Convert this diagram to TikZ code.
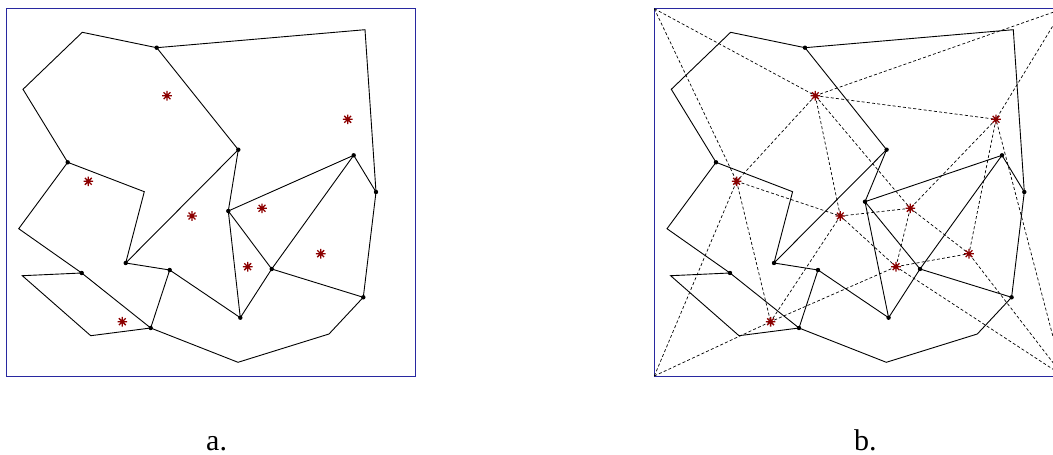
\documentclass[tikz,border=0pt]{standalone}
\usepackage{fontspec}
\setmainfont{Liberation Serif}
\definecolor{framecol}{RGB}{40,40,160}
\definecolor{starcol}{RGB}{140,0,0}
\tikzset{
  frameline/.style={draw=framecol,line width=0.9pt},
  polyline/.style={draw=black,line width=0.9pt},
  dualline/.style={draw=black,line width=0.7pt,dash pattern=on 3pt off 2.2pt},
  vdot/.style={fill=black},
  starmark/.pic={\draw[starcol,line width=1.3pt] (-4.8,0)--(4.8,0) (0,-4.8)--(0,4.8) (-3.4,-3.4)--(3.4,3.4) (-3.4,3.4)--(3.4,-3.4);},
  lab/.style={font=\fontsize{30}{36}\selectfont,anchor=base west,inner sep=0pt}
}
\begin{document}
\begin{tikzpicture}[x=1pt,y=-1pt]
\useasboundingbox (0,0) rectangle (1053,455);
\clip (0,0) rectangle (1053,455);
% polygon vertices
\foreach \n/\x/\y in {1/82.3/32.3,2/156.7/47.7,3/365/29.7,4/376/192,5/353.7/155.3,6/238.3/149.7,7/23/89.3,8/67.7/162.3,9/144.3/191.7,10/18.7/228.7,11/125.7/263,12/169.7/270,13/228.3/211,14/271.7/269,15/363.3/297.3,16/329/334,17/238/362.3,18/150.7/328,19/90.7/335.7,20/22.3/275.7,21/81.7/273,22/240.3/317.7}{
  \coordinate (a\n) at (\x,\y);
  \coordinate (b\n) at (\x+648.3,\y);
}
\coordinate (b13) at (865,201.7);
% region points
\foreach \n/\x/\y in {1/167/95.7,2/347.7/119.3,3/88.3/181.3,4/192/216,5/262/208.3,6/247.7/266.7,7/320.7/253.7,8/122.3/321.7}{
  \coordinate (sa\n) at (\x,\y);
  \coordinate (sb\n) at (\x+648.3,\y);
}
% frames
\coordinate (FAtl) at (6,8.7);
\coordinate (FAbr) at (415,376);
\coordinate (TL) at (654.3,8.7);
\coordinate (TR) at (1063.3,8.7);
\coordinate (BL) at (654.3,376);
\coordinate (BR) at (1063.3,376);
\draw[frameline] (FAtl) rectangle (FAbr);
\draw[frameline] (TL) rectangle (BR);
% polygons
\foreach \p in {a,b}{
  \draw[polyline] (\p1)--(\p2)--(\p3)--(\p4)--(\p15)--(\p16)--(\p17)--(\p18)--(\p19)--(\p20)--(\p21)--(\p10)--(\p8)--(\p7)--cycle;
  \draw[polyline] (\p2)--(\p6)--(\p11)--(\p9)--(\p8);
  \draw[polyline] (\p4)--(\p5)--(\p13)--(\p6);
  \draw[polyline] (\p5)--(\p14)--(\p13)--(\p22)--(\p14)--(\p15);
  \draw[polyline] (\p11)--(\p12)--(\p18)--(\p21);
  \draw[polyline] (\p12)--(\p22);
}
% dual connections (panel b)
\foreach \u/\v in {TL/sb1,TL/sb3,TR/sb1,TR/sb2,BL/sb3,BL/sb8,BR/sb2,BR/sb6,BR/sb7,sb1/sb2,sb1/sb3,sb1/sb4,sb1/sb5,sb2/sb5,sb2/sb7,sb3/sb4,sb3/sb8,sb4/sb5,sb4/sb6,sb4/sb8,sb5/sb6,sb5/sb7,sb6/sb7,sb6/sb8}{
  \draw[dualline] (\u)--(\v);
}
% vertex dots
\foreach \p in {a,b}{
  \foreach \n in {2,4,5,6,8,11,12,13,14,15,18,21,22}{
    \fill[vdot] (\p\n) circle (2.2);
  }
}
% stars
\foreach \p in {sa,sb}{
  \foreach \n in {1,...,8}{
    \pic at (\p\n) {starmark};
  }
}
% labels
\node[lab] (laba) at (206,450) {a.};
\node[lab] (labb) at (854,450) {b.};
\end{tikzpicture}
\end{document}
